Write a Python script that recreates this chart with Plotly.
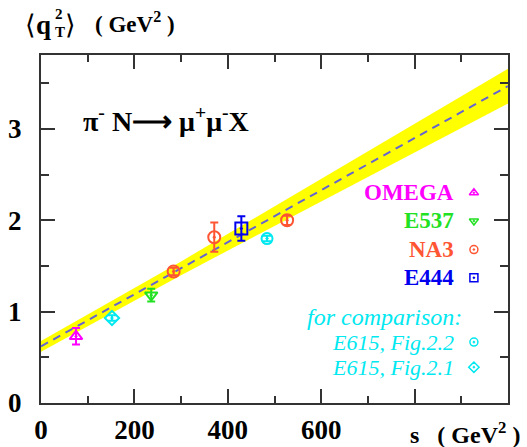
import plotly.graph_objects as go

# ---- data ----
fit_s = [0, 300, 1000]
fit_center = [0.62, 1.475, 3.47]
fit_upper = [0.68, 1.55, 3.66]
fit_lower = [0.56, 1.40, 3.28]

omega_s = [75]
omega_q = [0.73]
omega_err = [0.09]

e537_s = [236]
e537_q = [1.18]
e537_err = [0.07]

na3_s = [284, 371, 527]
na3_q = [1.44, 1.815, 2.0]
na3_err = [0.04, 0.16, 0.05]

e444_s = [429]
e444_q = [1.91]
e444_err = [0.135]

e615_22_s = [484]
e615_22_q = [1.80]
e615_22_err = [0.03]

e615_21_s = [152]
e615_21_q = [0.93]
e615_21_err = [0.03]

x_tickvals = [0, 200, 400, 600, 800, 1000]
x_ticktext = ["0", "200", "400", "600", "", ""]
y_tickvals = [0, 1, 2, 3]
y_ticktext = ["0", "1", "2", "3"]

legend_names = ["OMEGA", "E537", "NA3", "E444", "E615, Fig.2.2", "E615, Fig.2.1"]

MAG = "#FF00FF"
GRN = "#22E022"
ORG = "#FF5533"
BLU = "#0000EE"
CYN = "#00E8F0"
SERIF = "Liberation Serif"

fig = go.Figure()

# band
fig.add_trace(go.Scatter(x=fit_s, y=fit_lower, mode="lines", line=dict(width=0, color="#FFFF00"),
                         showlegend=False, hoverinfo="skip"))
fig.add_trace(go.Scatter(x=fit_s, y=fit_upper, mode="lines", line=dict(width=0, color="#FFFF00"),
                         fill="tonexty", fillcolor="#FFFF00", showlegend=False, hoverinfo="skip"))
fig.add_trace(go.Scatter(x=fit_s, y=fit_center, mode="lines",
                         line=dict(color="#6464D2", width=2, dash="8px,6px"),
                         showlegend=False, hoverinfo="skip"))


def pts(x, y, err, color, symbol, size=11):
    fig.add_trace(go.Scatter(
        x=x, y=y, mode="markers",
        marker=dict(symbol=symbol, size=size, color=color, line=dict(color=color, width=2)),
        error_y=dict(type="data", array=err, visible=True, color=color, thickness=2, width=4),
        showlegend=False))


pts(omega_s, omega_q, omega_err, MAG, "triangle-up-open-dot")
pts(e615_21_s, e615_21_q, e615_21_err, CYN, "diamond-open-dot")
pts(e537_s, e537_q, e537_err, GRN, "triangle-down-open-dot")
pts(na3_s, na3_q, na3_err, ORG, "circle-open-dot", 12)
pts(e444_s, e444_q, e444_err, BLU, "square-open-dot", 12)
pts(e615_22_s, e615_22_q, e615_22_err, CYN, "circle-open-dot")

# legend (manual: text right-aligned, marker to the right)
leg_y = [0.604, 0.523, 0.441, 0.360, 0.175, 0.103]
leg_colors = [MAG, GRN, ORG, BLU, CYN, CYN]
leg_symbols = ["triangle-up-open-dot", "triangle-down-open-dot", "circle-open-dot",
               "square-open-dot", "circle-open-dot", "diamond-open-dot"]
for i, name in enumerate(legend_names):
    fig.add_trace(go.Scatter(x=[0.927], y=[leg_y[i]], xaxis="x2", yaxis="y2", mode="markers",
                             marker=dict(symbol=leg_symbols[i], size=8, color=leg_colors[i],
                                         line=dict(color=leg_colors[i], width=1.5)),
                             showlegend=False, hoverinfo="skip"))
    italic = i >= 4
    txt = f"<i>{name}</i>" if italic else f"<b>{name}</b>"
    fig.add_annotation(xref="paper", yref="paper", x=0.888, y=leg_y[i], xanchor="right",
                       yanchor="middle", text=txt, showarrow=False,
                       font=dict(family=SERIF, size=23 if not italic else 22, color=leg_colors[i]))
fig.add_annotation(xref="paper", yref="paper", x=0.905, y=0.247, xanchor="right", yanchor="middle",
                   text="<i>for comparison:</i>", showarrow=False,
                   font=dict(family=SERIF, size=24, color=CYN))

# reaction label
fig.add_annotation(xref="paper", yref="paper", x=0.085, y=0.815, xanchor="left", yanchor="middle",
                   text="<b>π<sup>-</sup> N⟶ μ<sup>+</sup>μ<sup>-</sup>X</b>", showarrow=False,
                   font=dict(family=SERIF, size=28, color="black"))

# y-axis title  <q_T^2> (GeV^2)
fig.add_annotation(xref="paper", yref="paper", x=-0.038, y=1.085, xanchor="left", yanchor="middle",
                   text="⟨<b>q</b>", showarrow=False, font=dict(family=SERIF, size=27, color="black"))
fig.add_annotation(xref="paper", yref="paper", x=0.026, y=1.118, xanchor="left", yanchor="middle",
                   text="<b>2</b>", showarrow=False, font=dict(family=SERIF, size=15, color="black"))
fig.add_annotation(xref="paper", yref="paper", x=0.026, y=1.066, xanchor="left", yanchor="middle",
                   text="<b>T</b>", showarrow=False, font=dict(family=SERIF, size=15, color="black"))
fig.add_annotation(xref="paper", yref="paper", x=0.048, y=1.085, xanchor="left", yanchor="middle",
                   text="⟩", showarrow=False, font=dict(family=SERIF, size=27, color="black"))
fig.add_annotation(xref="paper", yref="paper", x=0.112, y=1.092, xanchor="left", yanchor="middle",
                   text="<b>( GeV<sup>2</sup> )</b>", showarrow=False,
                   font=dict(family=SERIF, size=23, color="black"))

# x-axis title
fig.add_annotation(xref="paper", yref="paper", x=1.03, y=-0.087, xanchor="right", yanchor="middle",
                   text="<b>s&nbsp;&nbsp;&nbsp;( GeV<sup>2</sup> )</b>", showarrow=False,
                   font=dict(family=SERIF, size=24, color="black"))

axis_common = dict(showgrid=False, zeroline=False, showline=True, linecolor="#333333", linewidth=2,
                   mirror="allticks", ticks="inside", tickcolor="#333333", tickwidth=2,
                   automargin=False,
                   tickfont=dict(family=SERIF, size=27, color="black"))

fig.update_layout(
    width=527, height=447,
    margin=dict(l=41, r=19, t=55, b=44),
    paper_bgcolor="white", plot_bgcolor="white",
    font=dict(family=SERIF),
    xaxis=dict(range=[0, 1000], tickvals=x_tickvals, ticktext=[f"<b>{t}</b>" for t in x_ticktext],
               ticklen=14,
               minor=dict(dtick=100, tick0=0, ticklen=7, ticks="inside", tickcolor="#333333", tickwidth=2),
               ticklabelstandoff=2, **axis_common),
    yaxis=dict(range=[0, 3.81], tickvals=y_tickvals, ticktext=[f"<b>{t}</b>" for t in y_ticktext],
               ticklen=14,
               minor=dict(dtick=0.5, tick0=0, ticklen=8, ticks="inside", tickcolor="#333333", tickwidth=2),
               ticklabelstandoff=12, **axis_common),
    xaxis2=dict(range=[0, 1], overlaying="x", visible=False, fixedrange=True),
    yaxis2=dict(range=[0, 1], overlaying="y", visible=False, fixedrange=True),
    showlegend=False,
)

fig.write_html("out.html", config={"displayModeBar": False},
               post_script="document.body.style.margin='0';document.body.style.padding='0';")
